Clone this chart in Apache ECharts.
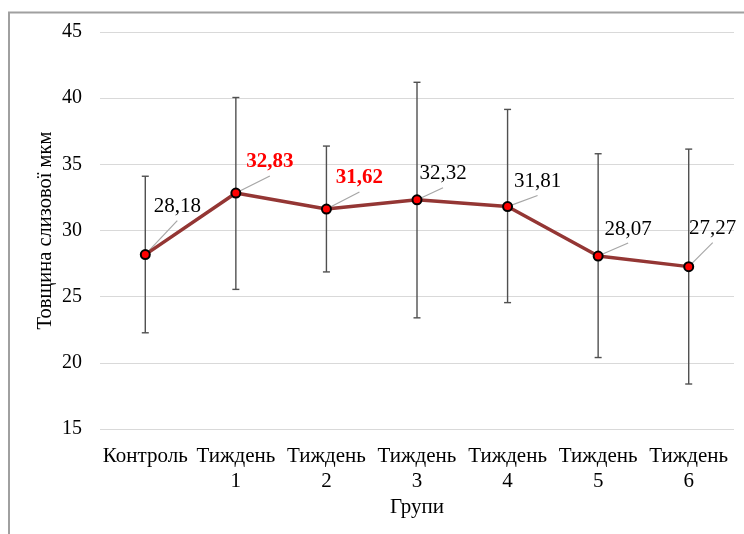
<!DOCTYPE html>
<html>
<head>
<meta charset="utf-8">
<script src="https://cdn.jsdelivr.net/npm/echarts@6/dist/echarts.min.js"></script>
<style>
  html, body { margin: 0; padding: 0; background: #fff; }
  #chart { width: 744px; height: 534px; }
</style>
</head>
<body>
<div id="chart"></div>
<script>
const categories = ['Контроль', 'Тиждень\n1', 'Тиждень\n2', 'Тиждень\n3', 'Тиждень\n4', 'Тиждень\n5', 'Тиждень\n6'];
const means = [28.18, 32.83, 31.62, 32.32, 31.81, 28.07, 27.27];
const errLow = [22.27, 25.55, 26.87, 23.4, 24.55, 20.4, 18.4];
const errHigh = [34.1, 40.05, 36.38, 41.2, 39.15, 35.8, 36.15];
const highlighted = [false, true, true, false, false, false, false];
// label shift from the point (px), leader line ends just under the label
const labelShift = [[32, -48], [34, -31], [33, -31], [26, -26], [30, -25], [30, -27], [24, -38]];

const font = 'Liberation Serif, Times New Roman, serif';

const lineData = means.map((v, i) => ({
  value: v,
  label: highlighted[i] ? { color: '#ff0000', fontWeight: 'bold' } : {}
}));

const errData = categories.map((c, i) => [i, errLow[i], errHigh[i]]);
const leaderData = means.map((v, i) => [i, v]);

const chart = echarts.init(document.getElementById('chart'));
const option = {
  animation: false,
  backgroundColor: '#fff',
  textStyle: { fontFamily: font },
  graphic: [{
    type: 'rect',
    shape: { x: 9, y: 12.5, width: 800, height: 600 },
    style: { fill: 'none', stroke: '#a0a0a0', lineWidth: 2 },
    silent: true
  }],
  grid: { left: 100, right: 10, top: 32, bottom: 105 },
  xAxis: {
    type: 'category',
    data: categories,
    name: 'Групи',
    nameLocation: 'middle',
    nameGap: 68,
    nameMoveOverlap: false,
    nameTextStyle: { fontFamily: font, fontSize: 21, color: '#000' },
    axisLine: { show: false },
    axisTick: { show: false },
    axisLabel: { fontFamily: font, fontSize: 21, color: '#000', margin: 15, lineHeight: 25, interval: 0 }
  },
  yAxis: {
    type: 'value',
    min: 15, max: 45, interval: 5,
    name: 'Товщина слизової мкм',
    nameLocation: 'middle',
    nameGap: 44,
    nameMoveOverlap: false,
    nameTextStyle: { fontFamily: font, fontSize: 20.5, color: '#000' },
    axisLine: { show: false },
    axisTick: { show: false },
    axisLabel: { fontFamily: font, fontSize: 20, color: '#000', margin: 18 },
    splitLine: { lineStyle: { color: '#d9d9d9', width: 1 } }
  },
  series: [
    {
      // error bars
      type: 'custom',
      z: 1,
      data: errData,
      renderItem: function (params, api) {
        const x = api.coord([api.value(0), 0])[0];
        const lo = api.coord([api.value(0), api.value(1)])[1];
        const hi = api.coord([api.value(0), api.value(2)])[1];
        const cap = 3.5;
        const style = { stroke: '#505050', lineWidth: 1.4 };
        return {
          type: 'group',
          children: [
            { type: 'line', shape: { x1: x, y1: lo, x2: x, y2: hi }, style: style },
            { type: 'line', shape: { x1: x - cap, y1: lo, x2: x + cap, y2: lo }, style: style },
            { type: 'line', shape: { x1: x - cap, y1: hi, x2: x + cap, y2: hi }, style: style }
          ]
        };
      }
    },
    {
      // leader lines from point to label
      type: 'custom',
      z: 2,
      data: leaderData,
      renderItem: function (params, api) {
        const p = api.coord([api.value(0), api.value(1)]);
        const s = labelShift[params.dataIndex];
        const ex = p[0] + s[0], ey = p[1] + s[1] + 14;
        const len = Math.hypot(ex - p[0], ey - p[1]);
        const sx = p[0] + (ex - p[0]) / len * 5, sy = p[1] + (ey - p[1]) / len * 5;
        return {
          type: 'line',
          shape: { x1: sx, y1: sy, x2: ex, y2: ey },
          style: { stroke: '#a6a6a6', lineWidth: 1.2 }
        };
      }
    },
    {
      type: 'line',
      z: 3,
      data: lineData,
      lineStyle: { color: '#943634', width: 3.5 },
      symbol: 'circle',
      symbolSize: 9,
      itemStyle: { color: '#ff0000', borderColor: '#000', borderWidth: 2 },
      label: {
        show: true,
        position: 'inside',
        fontFamily: font,
        fontSize: 21,
        color: '#000',
        formatter: p => p.value.toFixed(2).replace('.', ',')
      },
      labelLayout: function (params) {
        const s = labelShift[params.dataIndex];
        return { dx: s[0], dy: s[1] };
      }
    }
  ]
};
chart.setOption(option);
</script>
</body>
</html>
